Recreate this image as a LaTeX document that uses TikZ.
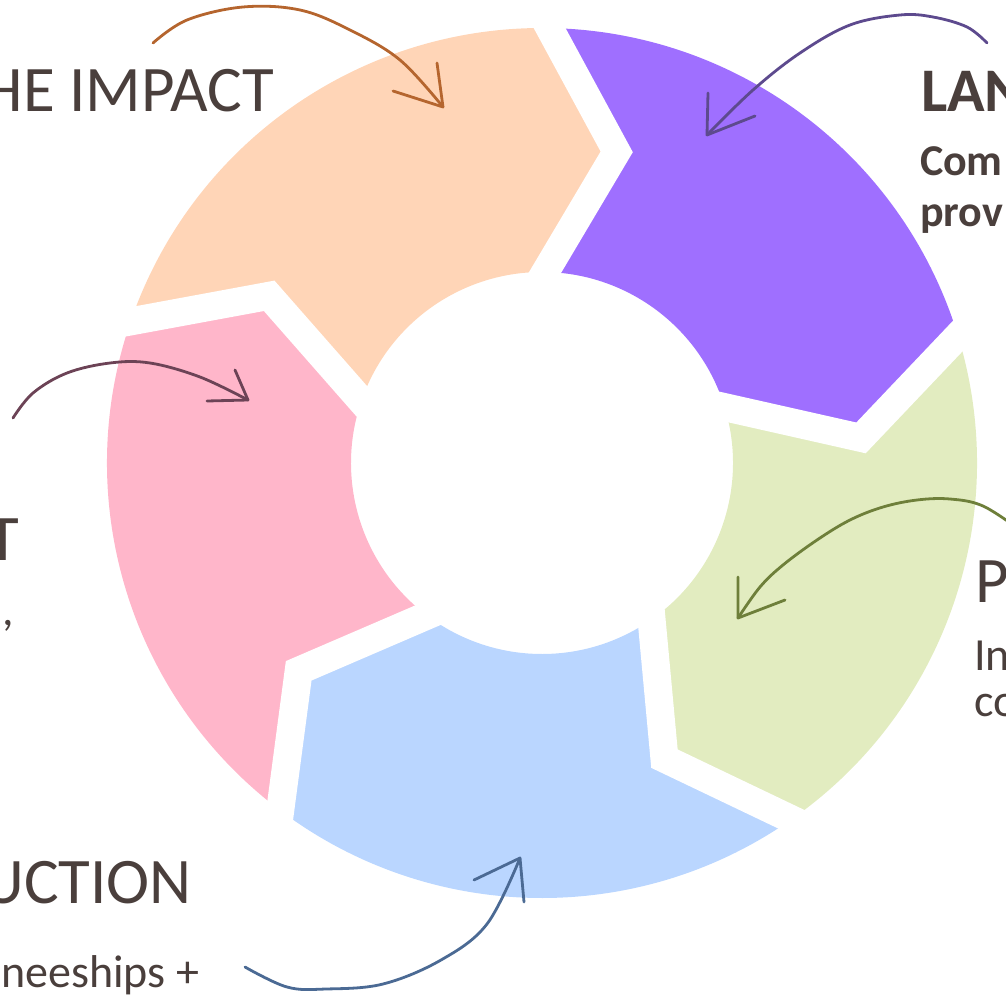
\documentclass[tikz,border=0pt]{standalone}
\usepackage{fontspec}
\setmainfont{Carlito}
\usetikzlibrary{calc}
\definecolor{cPeach}{HTML}{FFD5B7}
\definecolor{cPurple}{HTML}{9F6FFF}
\definecolor{cGreen}{HTML}{E2ECC0}
\definecolor{cBlue}{HTML}{BAD6FF}
\definecolor{cPink}{HTML}{FFB6CA}
\definecolor{aPeach}{HTML}{B5652E}
\definecolor{aPurple}{HTML}{5D4A8E}
\definecolor{aPink}{HTML}{6C4356}
\definecolor{aGreen}{HTML}{6E7F3A}
\definecolor{aBlue}{HTML}{4B6A94}
\definecolor{cText}{HTML}{4A3F3C}
\begin{document}
\begin{tikzpicture}[x=1pt,y=-1pt,
  arr/.style={line width=2.8pt, line cap=round, line join=round},
  lbl/.style={text=cText, inner sep=0pt, outer sep=0pt},
  gapline/.style={white, line width=28pt, line join=miter},
  title/.style={lbl, font=\fontsize{65}{78}\selectfont},
  btitle/.style={lbl, font=\fontsize{62}{74}\selectfont\bfseries},
  sub/.style={lbl, font=\fontsize{46}{54}\selectfont},
  bsub/.style={lbl, font=\fontsize{44}{52}\selectfont\bfseries}]
\useasboundingbox (0,0) rectangle (1006,995);
\clip (0,0) rectangle (1006,995);
\begin{scope}[shift={(542,463)}, yscale=-1]
  \def\R{435}\def\r{191}\def\rt{320}
  \foreach \a/\c in {161/cPeach, 89/cPurple, 17/cGreen, -55/cBlue, -127/cPink} {
    \pgfmathsetmacro\b{\a-72}
    \pgfmathsetmacro\ta{\a-12.5}
    \pgfmathsetmacro\tb{\b-12.5}
    \fill[\c] (\a:\R) arc[start angle=\a, end angle=\b, radius=\R] -- (\tb:\rt) -- (\b:\r) arc[start angle=\b, end angle=\a, radius=\r] -- (\ta:\rt) -- cycle;
  }
  \foreach \a in {161,89,17,-55,-127} {
    \pgfmathsetmacro\ta{\a-12.5}
    \draw[gapline] ($(\ta:\rt)!1.25!(\a:\R)$) -- (\ta:\rt) -- ($(\ta:\rt)!1.3!(\a:\r)$);
  }
\end{scope}
% arrows
\coordinate (s1) at (153,43); \coordinate (e1) at (443,107);
\draw[arr, aPeach] plot[smooth, tension=0.6] coordinates {(s1) (187,20) (243,7) (300,10) (350,30) (400,60) (e1)};
\draw[arr, aPeach] (e1) -- (437,63) (e1) -- (393,91);
\coordinate (s2) at (987,43); \coordinate (e2) at (707,135);
\draw[arr, aPurple] plot[smooth, tension=0.6] coordinates {(s2) (967,27) (933,17) (900,15) (850,25) (800,53) (753,90) (e2)};
\draw[arr, aPurple] (e2) -- (708,93) (e2) -- (755,116);
\coordinate (s3) at (13,418); \coordinate (e3) at (248,400);
\draw[arr, aPink] plot[smooth, tension=0.6] coordinates {(s3) (33,393) (67,373) (110,363) (150,363) (200,377) (e3)};
\draw[arr, aPink] (e3) -- (235,370) (e3) -- (207,401);
\coordinate (s4) at (1020,530); \coordinate (e4) at (738,618);
\draw[arr, aGreen] plot[smooth, tension=0.6] coordinates {(s4) (983,506) (950,499) (917,500) (883,507) (850,520) (817,540) (783,565) (760,587) (e4)};
\draw[arr, aGreen] (e4) -- (738,577) (e4) -- (785,600);
\coordinate (s5) at (245,967); \coordinate (e5) at (520,858);
\draw[arr, aBlue] plot[smooth, tension=0.6] coordinates {(s5) (287,987) (326,989) (383,984) (441,960) (487,924) (e5)};
\draw[arr, aBlue] (e5) -- (474,880) (e5) -- (524,902);
% texts
\node[title, anchor=base east] (t1) at (274,112) {HE IMPACT};
\node[btitle, anchor=base west] (t2) at (921,112) {LAN};
\node[bsub, anchor=base west] (t2a) at (920,176) {Com};
\node[bsub, anchor=base west] (t2b) at (920,226) {prov};
\node[title, anchor=base east] (t3) at (19,560) {T};
\node[sub, anchor=base east] (t3a) at (14,625) {,};
\node[title, anchor=base west] (t4) at (975,602) {P};
\node[sub, anchor=base west] (t4a) at (974,670) {In};
\node[sub, anchor=base west] (t4b) at (974,716) {co};
\node[title, anchor=base east] (t5) at (192,903) {UCTION};
\node[sub, anchor=base east] (t5a) at (199,987) {neeships +};
\end{tikzpicture}
\end{document}
